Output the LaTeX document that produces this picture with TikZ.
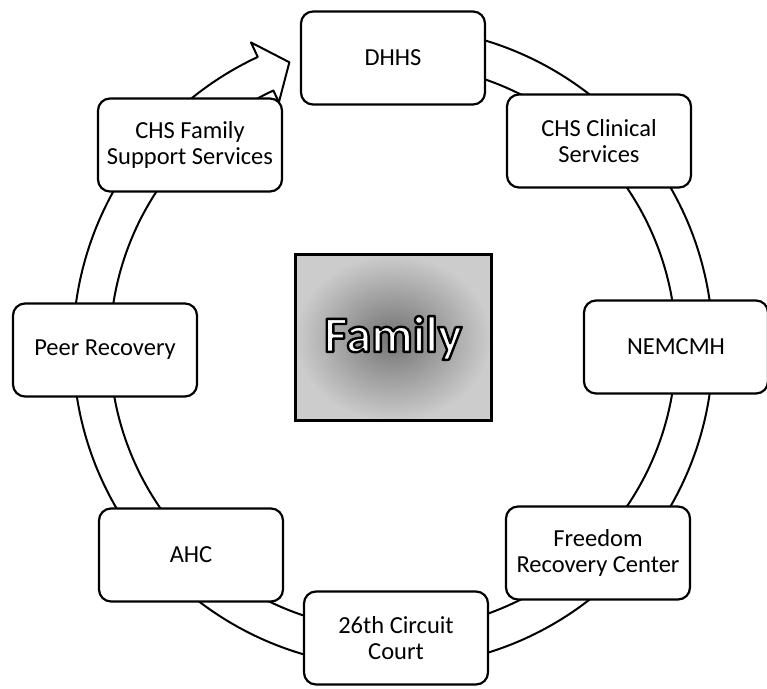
\documentclass[tikz,border=0pt]{standalone}
\usepackage{fontspec}
\setmainfont{Carlito}
\usetikzlibrary{positioning,calc}

% white letters with a black rim
\newcommand{\rimtext}[1]{%
  {\color{white}\special{pdf:literal direct 0 G 2.4 w 1 j 2 Tr}#1\special{pdf:literal direct 0 Tr}}}

\tikzset{
  unit/.style={draw, line width=2.2pt, rounded corners=12pt, fill=white,
    minimum width=184pt, minimum height=93pt, align=center,
    font=\fontsize{24.5}{26}\selectfont},
  core/.style={draw, line width=3pt, minimum width=196pt, minimum height=166pt,
    inner color=black!55, outer color=black!20,
    font=\fontsize{51}{54}\selectfont\bfseries},
  band/.style={draw, line width=2pt, fill=white, line join=round},
}

\begin{document}
\begin{tikzpicture}[x=1pt,y=1pt]
    \useasboundingbox (0,0) rectangle (767,688);

    % circular arrow behind the boxes
    \begin{scope}[shift={(393,341)}]
      \draw[band] (95:320) arc[start angle=95, end angle=-245, radius=320]
        -- (-245:336) -- (-250:303) -- (-245:270) -- (-245:283)
        arc[start angle=-245, end angle=95, radius=283] -- cycle;
    \end{scope}

    \node[unit] (dhhs)    at (393,630) {DHHS};
    \node[unit] (clinic)  at (599,547) {CHS Clinical\\Services};
    \node[unit] (nemcmh)  at (676,341) {NEMCMH};
    \node[unit] (freedom) at (598,135) {Freedom\\Recovery Center};
    \node[unit] (court)   at (396,50)  {26th Circuit\\Court};
    \node[unit] (ahc)     at (191,133) {AHC};
    \node[unit] (peer)    at (105,338) {Peer Recovery};
    \node[unit] (support) at (190,543) {CHS Family\\Support Services};

    \node[core] (family) at (393,350) {\rimtext{Family}};

\end{tikzpicture}
\end{document}
